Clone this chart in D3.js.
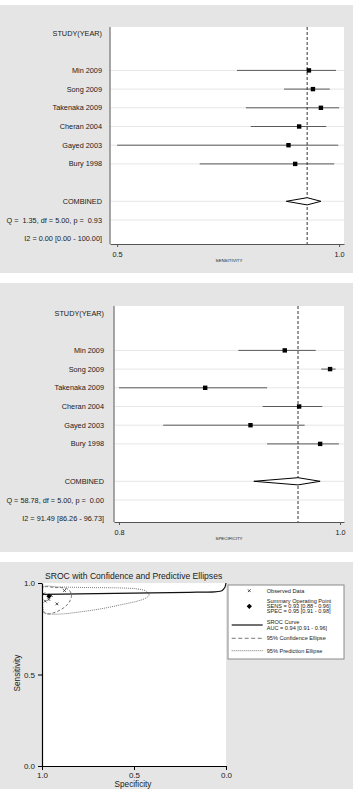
<!DOCTYPE html>
<html><head><meta charset="utf-8">
<script src="https://cdn.jsdelivr.net/npm/d3@7"></script>
<style>
html,body{margin:0;padding:0;background:#fff;}
svg{display:block;font-family:"Liberation Sans",Arial,Helvetica,sans-serif;}
text{white-space:pre;}
</style></head><body>
<svg id="c" width="353" height="789"></svg>
<script>
// ---------- data ----------
const studies = ["Min 2009","Song 2009","Takenaka 2009","Cheran 2004","Gayed 2003","Bury 1998"];
const sens   = [0.932,0.941,0.959,0.910,0.886,0.901];
const sensLo = [0.770,0.876,0.790,0.801,0.500,0.686];
const sensHi = [0.993,0.979,1.000,0.971,0.998,0.989];
const sensComb = [0.928,0.881,0.959]; // est, lo, hi
const spec   = [0.950,0.991,0.878,0.963,0.919,0.982];
const specLo = [0.908,0.983,0.800,0.930,0.840,0.934];
const specHi = [0.978,0.996,0.934,0.984,0.968,0.999];
const specComb = [0.962,0.922,0.982];
const sensTicks = [0.5,1.0];
const specTicks = [0.8,1.0];
const sensStats = ["Q =  1.35, df = 5.00, p =  0.93","I2 = 0.00 [0.00 - 100.00]"];
const specStats = ["Q = 58.78, df = 5.00, p =  0.00","I2 = 91.49 [86.26 - 96.73]"];
// SROC curve (specificity, sensitivity)
const srocSpec = [1.0,0.8,0.5,0.2,0.06,0.03,0.012,0.004,0.0];
const srocSens = [0.938,0.941,0.945,0.949,0.952,0.955,0.968,0.982,1.0];
const confSpec = [0.995,0.929,0.880,0.853,0.840,0.848,0.870,0.902,0.940,0.978,0.995,0.997];
const confSens = [0.975,0.975,0.973,0.962,0.934,0.902,0.874,0.852,0.836,0.831,0.847,0.891];
const predSpec = [0.995,0.902,0.739,0.576,0.478,0.435,0.418,0.435,0.478,0.576,0.685,0.793,0.891,0.957,0.989,0.997,0.997];
const predSens = [0.978,0.978,0.975,0.973,0.967,0.956,0.934,0.918,0.902,0.880,0.858,0.842,0.831,0.831,0.842,0.880,0.934];
const srocTicks = [0,0.5,1];
const legendLabels = [["Observed Data"],["Summary Operating Point","SENS = 0.93 [0.88 - 0.96]","SPEC = 0.95 [0.91 - 0.98]"],["SROC Curve","AUC = 0.94 [0.91 - 0.96]"],["95% Confidence Ellipse"],["95% Prediction Ellipse"]];

// ---------- drawing ----------
const W = 353, H = 789;
const svg = d3.select("#c");
const BG = "#e5e5e5";
const f1 = d3.format(".1f");
const diamondSym = d3.symbol(d3.symbolSquare,14);

function forest(cfg){
  const g = svg.append("g");
  g.append("rect").attr("x",0).attr("y",cfg.bgTop).attr("width",W).attr("height",cfg.bgBottom-cfg.bgTop).attr("fill",BG);
  g.append("rect").attr("x",cfg.left).attr("y",cfg.top).attr("width",cfg.right-cfg.left).attr("height",cfg.bottom-cfg.top).attr("fill","#fff");
  const x = d3.scaleLinear().domain(cfg.domain).range([cfg.left,cfg.right]);
  const y = d3.scaleLinear().domain([0,11]).range([cfg.row0,cfg.row0+11*18.7]);
  const labels = ["STUDY(YEAR)",""].concat(studies,["","COMBINED"],cfg.stats);
  const gridRows = [2,3,4,5,6,7,9,10];
  g.selectAll(".grid").data(gridRows).join("line")
    .attr("x1",cfg.left).attr("x2",cfg.right).attr("y1",d=>y(d)).attr("y2",d=>y(d))
    .attr("stroke","#e6e6e6").attr("stroke-width",1);
  g.selectAll(".lab").data(labels).join("text")
    .attr("x",cfg.labelX).attr("y",(d,i)=>y(i)).attr("dy","0.35em")
    .attr("text-anchor","end").attr("font-size","7.3px").attr("fill","#1a1a1a").text(d=>d);
  cfg.est.forEach((v,i)=>{
    g.append("line").attr("x1",x(cfg.lo[i])).attr("x2",x(cfg.hi[i])).attr("y1",y(i+2)).attr("y2",y(i+2))
      .attr("stroke","#5a5a5a").attr("stroke-width",1);
  });
  g.append("line").attr("x1",x(cfg.comb[0])).attr("x2",x(cfg.comb[0])).attr("y1",cfg.top).attr("y2",cfg.bottom)
    .attr("stroke","#333").attr("stroke-width",1).attr("stroke-dasharray","3,2");
  g.selectAll(".sq").data(cfg.est).join("rect")
    .attr("x",d=>x(d)-2.2).attr("y",(d,i)=>y(i+2)-2.2).attr("width",4.4).attr("height",4.4).attr("fill","#000");
  const yc = y(9), c = cfg.comb;
  g.append("path").attr("d",`M${x(c[1])},${yc}L${x(c[0])},${yc-3.6}L${x(c[2])},${yc}L${x(c[0])},${yc+3.6}Z`)
    .attr("fill","#fff").attr("stroke","#000").attr("stroke-width",1);
  g.append("line").attr("x1",cfg.left).attr("x2",cfg.left).attr("y1",cfg.top).attr("y2",cfg.bottom)
    .attr("stroke","#8a8a8a").attr("stroke-width",1.5);
  const ax = g.append("g").attr("transform",`translate(0,${cfg.bottom})`)
    .call(d3.axisBottom(x).tickValues(cfg.ticks).tickSize(3).tickSizeOuter(0).tickPadding(4.5).tickFormat(f1));
  ax.select(".domain").attr("stroke","#555");
  ax.selectAll(".tick line").attr("stroke","#555");
  ax.selectAll("text").attr("font-size","7.3px").attr("fill","#1a1a1a").attr("font-family","Liberation Sans, Arial, sans-serif");
  g.append("text").attr("x",229).attr("y",cfg.bottom+cfg.titleOff).attr("dy","0.35em").attr("text-anchor","middle")
    .attr("font-size","4.4px").attr("fill","#222").text(cfg.title);
}

forest({bgTop:5,bgBottom:273,left:110,right:344,top:27,bottom:244,row0:33,labelX:102,
  domain:[0.484,1.011],ticks:sensTicks,est:sens,lo:sensLo,hi:sensHi,comb:sensComb,stats:sensStats,title:"SENSITIVITY",titleOff:16});
forest({bgTop:283,bgBottom:552,left:114,right:344,top:306,bottom:522,row0:313,labelX:104,
  domain:[0.7955,1.0036],ticks:specTicks,est:spec,lo:specLo,hi:specHi,comb:specComb,stats:specStats,title:"SPECIFICITY",titleOff:16.5});

// ---------- SROC panel ----------
const g3 = svg.append("g");
g3.append("rect").attr("x",0).attr("y",562).attr("width",W).attr("height",H-562).attr("fill",BG);
const L=42,R=226,T=583,B=766;
g3.append("rect").attr("x",L).attr("y",T).attr("width",R-L).attr("height",B-T).attr("fill","#fff");
svg.append("defs").append("clipPath").attr("id","pc").append("rect").attr("x",L).attr("y",T-2).attr("width",R-L+1).attr("height",B-T+2);
const xS = d3.scaleLinear().domain([1,0]).range([L,R]);
const yS = d3.scaleLinear().domain([0,1]).range([B,T]);
g3.append("text").attr("x",45).attr("y",576).attr("dy","0.35em").attr("font-size","8.6px").attr("fill","#1a1a1a")
  .text("SROC with Confidence and Predictive Ellipses");
const pl = g3.append("g").attr("clip-path","url(#pc)");
const ell = d3.line().x(d=>xS(d[0])).y(d=>yS(d[1])).curve(d3.curveCatmullRomClosed.alpha(0.5));
pl.append("path").attr("d",ell(predSpec.map((s,i)=>[s,predSens[i]])))
  .attr("fill","none").attr("stroke","#555").attr("stroke-width",0.8).attr("stroke-dasharray","1,1");
pl.append("path").attr("d",ell(confSpec.map((s,i)=>[s,confSens[i]])))
  .attr("fill","none").attr("stroke","#555").attr("stroke-width",0.8).attr("stroke-dasharray","3,2");
const cl = d3.line().x(d=>xS(d[0])).y(d=>yS(d[1])).curve(d3.curveMonotoneX);
pl.append("path").attr("d",cl(srocSpec.map((s,i)=>[s,srocSens[i]])))
  .attr("fill","none").attr("stroke","#111").attr("stroke-width",1.2);
pl.selectAll(".obs").data(studies).join("path")
  .attr("transform",(d,i)=>`translate(${xS(spec[i])},${yS(sens[i])})`)
  .attr("d",d3.symbol(d3.symbolX,6)).attr("stroke","#222").attr("stroke-width",0.8).attr("fill","none");
pl.append("path").attr("transform",`translate(${xS(specComb[0])},${yS(sensComb[0])}) rotate(45)`)
  .attr("d",diamondSym).attr("fill","#000");
const ay = g3.append("g").attr("transform",`translate(${L},0)`)
  .call(d3.axisLeft(yS).tickValues(srocTicks).tickSize(4).tickSizeOuter(0).tickPadding(3).tickFormat(f1));
const axb = g3.append("g").attr("transform",`translate(0,${B})`)
  .call(d3.axisBottom(xS).tickValues(srocTicks).tickSize(4).tickSizeOuter(0).tickPadding(2.5).tickFormat(f1));
[ay,axb].forEach(a=>{
  a.select(".domain").attr("stroke","#000").attr("stroke-width",1.2);
  a.selectAll(".tick line").attr("stroke","#000");
  a.selectAll("text").attr("font-size","8px").attr("fill","#1a1a1a").attr("font-family","Liberation Sans, Arial, sans-serif");
});
g3.append("text").attr("transform","translate(17,673) rotate(-90)").attr("dy","0.35em").attr("text-anchor","middle")
  .attr("font-size","8.2px").attr("fill","#1a1a1a").text("Sensitivity");
g3.append("text").attr("x",133).attr("y",784.3).attr("dy","0.35em").attr("text-anchor","middle")
  .attr("font-size","8.2px").attr("fill","#1a1a1a").text("Specificity");
// legend
const lg = g3.append("g");
lg.append("rect").attr("x",228).attr("y",585).attr("width",116).attr("height",74)
  .attr("fill","#fff").attr("stroke","#8a8a8a").attr("stroke-width",1);
const entryY = [590.7,606.3,625,638.3,650.7];
const lineTop = [[590.7],[601,606.2,611.4],[622.3,627.6],[638.3],[650.7]];
legendLabels.forEach((lines,k)=>{
  lines.forEach((t,j)=>{
    lg.append("text").attr("x",266.7).attr("y",lineTop[k][j]).attr("dy","0.35em")
      .attr("font-size","5.6px").attr("fill","#1a1a1a").text(t);
  });
});
lg.append("path").attr("transform",`translate(249.3,${entryY[0]})`).attr("d",d3.symbol(d3.symbolX,6))
  .attr("stroke","#222").attr("stroke-width",0.8).attr("fill","none");
lg.append("path").attr("transform",`translate(249.3,${entryY[1]}) rotate(45)`).attr("d",diamondSym).attr("fill","#000");
lg.append("line").attr("x1",231.7).attr("x2",262.7).attr("y1",entryY[2]).attr("y2",entryY[2]).attr("stroke","#111").attr("stroke-width",1.2);
lg.append("line").attr("x1",231.7).attr("x2",262.7).attr("y1",entryY[3]).attr("y2",entryY[3]).attr("stroke","#555").attr("stroke-width",0.8).attr("stroke-dasharray","4,2.5");
lg.append("line").attr("x1",231.7).attr("x2",262.7).attr("y1",entryY[4]).attr("y2",entryY[4]).attr("stroke","#555").attr("stroke-width",0.8).attr("stroke-dasharray","1,1");
</script>
</body></html>
